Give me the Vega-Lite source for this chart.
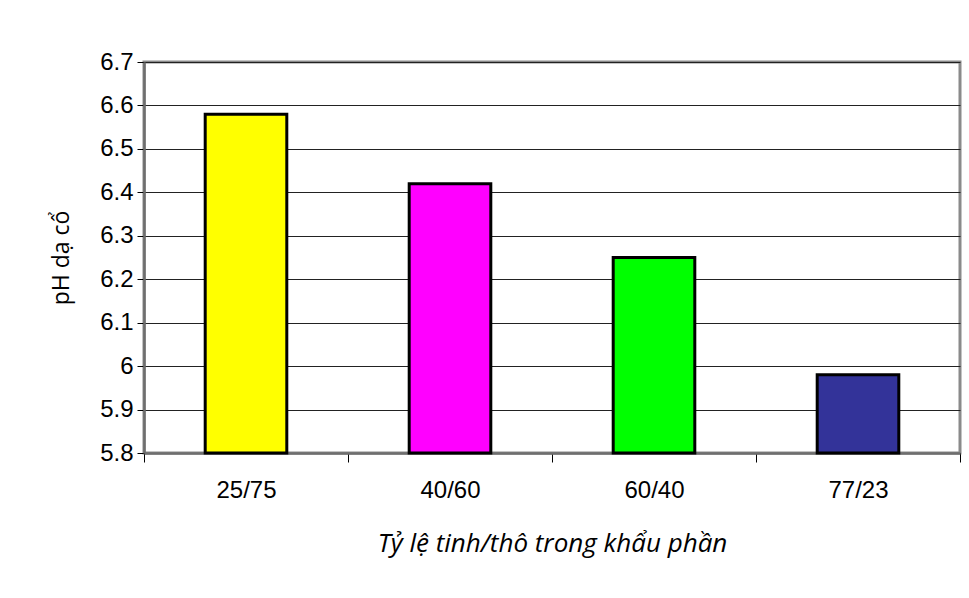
{
  "$schema": "https://vega.github.io/schema/vega-lite/v6.json",
  "width": 816,
  "height": 391,
  "autosize": {"type": "none"},
  "padding": {"left": 144, "top": 62, "right": 9, "bottom": 145},
  "background": "white",
  "config": {
    "view": {"stroke": "#8a8a8a", "strokeWidth": 3},
    "axis": {"labelFont": "Liberation Sans", "labelColor": "black", "titleColor": "black"}
  },
  "data": {
    "values": [
      {"ratio": "25/75", "ph": 6.58},
      {"ratio": "40/60", "ph": 6.42},
      {"ratio": "60/40", "ph": 6.25},
      {"ratio": "77/23", "ph": 5.98}
    ]
  },
  "mark": {"type": "bar", "stroke": "black", "strokeWidth": 3, "width": {"band": 0.4}},
  "encoding": {
    "x": {
      "field": "ratio",
      "type": "nominal",
      "sort": null,
      "scale": {"paddingInner": 0, "paddingOuter": 0},
      "axis": {
        "title": "Tỷ lệ tinh/thô trong khẩu phần",
        "titleFont": "Open Sans",
        "titleFontStyle": "italic",
        "titleFontWeight": "normal",
        "titleFontSize": 26,
        "titlePadding": 28,
        "labelAngle": 0,
        "labelFontSize": 24,
        "labelPadding": 16,
        "tickBand": "extent",
        "tickSize": 9,
        "tickColor": "black",
        "tickWidth": 1,
        "domainColor": "#6e6e6e",
        "domainWidth": 2.5,
        "grid": false
      }
    },
    "y": {
      "field": "ph",
      "type": "quantitative",
      "scale": {"domain": [5.8, 6.7], "zero": false, "nice": false},
      "axis": {
        "title": "pH dạ cổ",
        "titleFont": "Open Sans",
        "titleFontWeight": "normal",
        "titleFontSize": 23,
        "titlePadding": 26,
        "values": [5.8, 5.9, 6.0, 6.1, 6.2, 6.3, 6.4, 6.5, 6.6, 6.7],
        "format": ".1~f",
        "labelFontSize": 24,
        "labelPadding": 4,
        "tickSize": 7,
        "tickColor": "black",
        "domainColor": "#6e6e6e",
        "domainWidth": 2.5,
        "grid": true,
        "gridColor": "#222222",
        "gridWidth": 1,
        "gridOpacity": 1
      }
    },
    "y2": {"datum": 5.8},
    "color": {
      "field": "ratio",
      "type": "nominal",
      "sort": null,
      "scale": {"domain": ["25/75", "40/60", "60/40", "77/23"], "range": ["#FFFF00", "#FF00FF", "#00FF00", "#333399"]},
      "legend": null
    }
  }
}
